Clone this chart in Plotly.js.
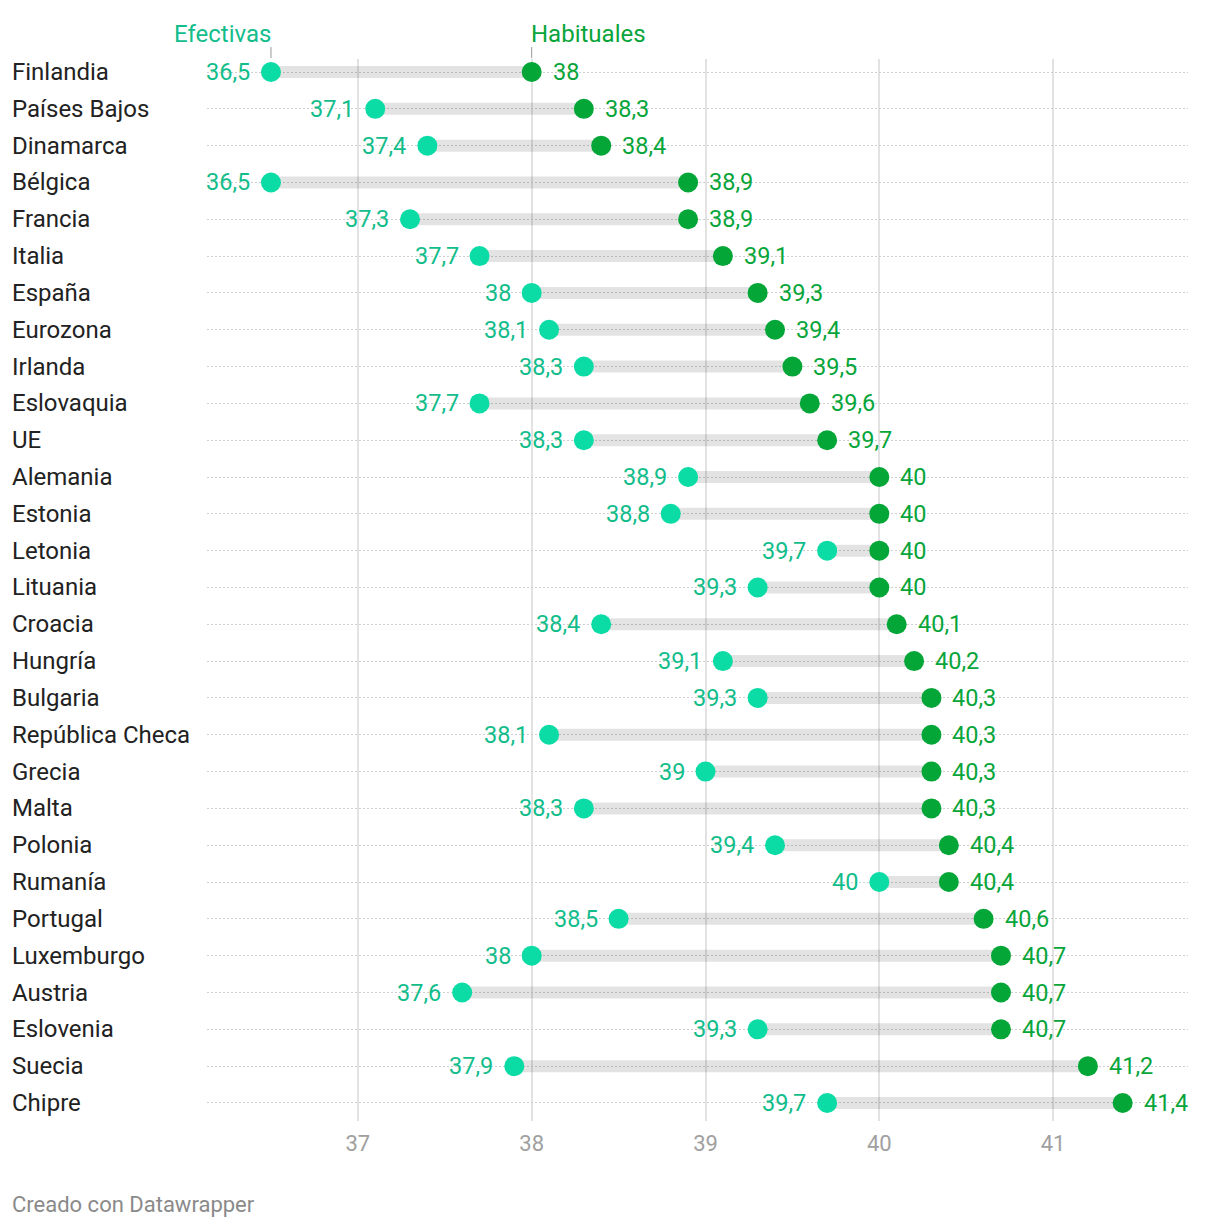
<!DOCTYPE html>
<html><head><meta charset="utf-8">
<script src="https://cdn.plot.ly/plotly-3.0.1.min.js"></script>
<style>body{margin:0;background:#fff}#c{width:1220px;height:1230px}</style>
</head><body><div id="c"></div>
<script>
const countries = ["Finlandia","Países Bajos","Dinamarca","Bélgica","Francia","Italia","España","Eurozona","Irlanda","Eslovaquia","UE","Alemania","Estonia","Letonia","Lituania","Croacia","Hungría","Bulgaria","República Checa","Grecia","Malta","Polonia","Rumanía","Portugal","Luxemburgo","Austria","Eslovenia","Suecia","Chipre"];
const efectivas = [36.5,37.1,37.4,36.5,37.3,37.7,38,38.1,38.3,37.7,38.3,38.9,38.8,39.7,39.3,38.4,39.1,39.3,38.1,39,38.3,39.4,40,38.5,38,37.6,39.3,37.9,39.7];
const habituales = [38,38.3,38.4,38.9,38.9,39.1,39.3,39.4,39.5,39.6,39.7,40,40,40,40,40.1,40.2,40.3,40.3,40.3,40.3,40.4,40.4,40.6,40.7,40.7,40.7,41.2,41.4];
const xTicks = [37,38,39,40,41];
const seriesNames = ["Efectivas","Habituales"];

const cEff = "#0bdba5", cEffText = "#13bd8b";
const cHab = "#03a637", cHabText = "#08a53b";
const fmt = v => String(v).replace(".", ",");
const F = "Roboto, 'Open Sans', sans-serif";

const bx = [], by = [];
countries.forEach((c,i)=>{ bx.push(efectivas[i], habituales[i], null); by.push(c, c, null); });

const traces = [
  {type:"scatter", mode:"lines", x:bx, y:by, line:{color:"rgba(0,0,0,0.11)", width:12}, hoverinfo:"skip", showlegend:false},
  {type:"scatter", mode:"markers", name:seriesNames[0], x:efectivas, y:countries,
   marker:{color:cEff, size:20}, cliponaxis:false, showlegend:false},
  {type:"scatter", mode:"markers", name:seriesNames[1], x:habituales, y:countries,
   marker:{color:cHab, size:20}, cliponaxis:false, showlegend:false}
];

const xmin = 36.132, xmax = 41.776;
const annotations = [];
countries.forEach((c,i)=>{
  annotations.push({text:c, xref:"paper", x:-197/981, xanchor:"left", yref:"y", y:c, yanchor:"middle",
    showarrow:false, font:{family:F, size:24, color:"#222"}});
  annotations.push({text:fmt(efectivas[i]), xref:"x", x:efectivas[i], xanchor:"right", xshift:-19, yref:"y", y:c, yanchor:"middle",
    showarrow:false, font:{family:F, size:23.5, color:cEffText}});
  annotations.push({text:fmt(habituales[i]), xref:"x", x:habituales[i], xanchor:"left", xshift:19, yref:"y", y:c, yanchor:"middle",
    showarrow:false, font:{family:F, size:23.5, color:cHabText}});
});
annotations.push(
  {text:seriesNames[0], xref:"x", x:efectivas[0], xanchor:"right", yref:"paper", y:1+ (59-34)/1062, yanchor:"middle",
   showarrow:false, font:{family:F, size:24, color:cEffText}, xshift:2},
  {text:seriesNames[1], xref:"x", x:habituales[0], xanchor:"left", yref:"paper", y:1+(59-34)/1062, yanchor:"middle",
   showarrow:false, font:{family:F, size:24, color:cHabText}, xshift:-3},
  {text:"Creado con Datawrapper", xref:"paper", x:-197/981, xanchor:"left", yref:"paper", y:-(1204-1121)/1062, yanchor:"middle",
   showarrow:false, font:{family:F, size:22, color:"#8a8a8a"}}
);
const shapes = [efectivas[0], habituales[0]].map(v=>({
  type:"line", xref:"x", x0:v, x1:v, yref:"paper", y0:1+1/1062, y1:1+12/1062, line:{color:"#999", width:1}
}));

const layout = {
  width:1220, height:1230, margin:{l:207, r:32, t:59, b:109},
  paper_bgcolor:"#fff", plot_bgcolor:"#fff", showlegend:false,
  xaxis:{range:[xmin,xmax], tickvals:xTicks, ticktext:xTicks.map(String), showgrid:true, gridcolor:"#e2e2e2", gridwidth:2,
         zeroline:false, showline:false, ticks:"", ticklabelstandoff:7, tickfont:{family:F, size:22, color:"#a0a0a0"}, fixedrange:true},
  yaxis:{type:"category", categoryorder:"array", categoryarray:countries, range:[28.49,-0.353],
         showgrid:true, gridcolor:"#cfcfcf", griddash:"2px,2px", gridwidth:1, showticklabels:false, zeroline:false, showline:false, ticks:"", fixedrange:true},
  annotations, shapes, font:{family:F}
};
Plotly.newPlot("c", traces, layout, {displayModeBar:false, staticPlot:true});
</script></body></html>
